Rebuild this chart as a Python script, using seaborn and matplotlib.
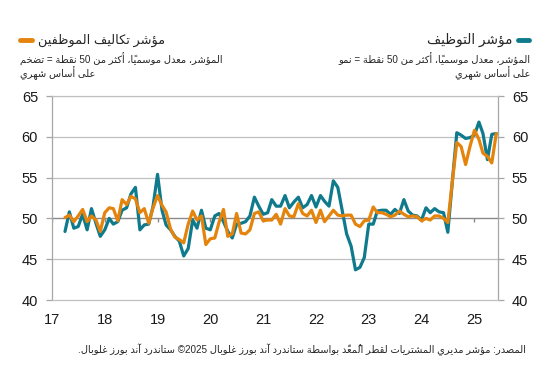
import pandas as pd
import matplotlib
matplotlib.use('Agg')
import matplotlib.pyplot as plt
import seaborn as sns
from matplotlib.lines import Line2D

# monthly readings, Apr 2017 - Jun 2025
employment = [
    48.4, 50.8, 48.8, 49.0, 50.5, 48.6, 51.2, 49.4, 47.8,
    48.6, 50.0, 49.3, 49.6, 51.0, 51.3, 53.0, 53.8, 48.6, 49.2, 49.3, 51.5,
    55.4, 51.0, 49.2, 48.6, 47.8, 47.2, 45.4, 46.3, 49.8, 48.8, 51.0, 48.8,
    48.6, 50.3, 50.6, 49.6, 48.4, 47.6, 49.3, 49.4, 49.6, 50.3, 52.6, 51.5,
    50.5, 50.7, 52.3, 51.5, 51.5, 52.8, 51.3, 52.0, 52.6, 51.3, 51.7, 52.8,
    51.4, 52.8, 52.1, 51.5, 54.6, 53.8, 51.0, 48.1, 46.6, 43.7, 44.0, 45.2,
    49.3, 49.3, 50.9, 51.0, 51.0, 50.5, 51.1, 50.6, 52.3, 50.9, 50.4, 50.3,
    49.8, 51.3, 50.7, 51.2, 50.8, 50.7, 48.3, 54.5, 60.5, 60.2, 59.8, 59.9,
    60.2, 61.8, 60.4, 57.2, 60.3, 60.4,
]
staff_costs = [
    50.1, 50.4, 49.6, 50.3, 51.1, 49.6, 50.3, 49.8, 48.4,
    50.7, 51.3, 51.2, 49.7, 52.3, 51.7, 52.7, 52.4, 50.7, 51.2, 49.4, 51.3,
    52.8, 51.6, 50.8, 48.7, 47.7, 47.4, 47.0, 49.3, 50.9, 49.8, 50.3, 46.8,
    47.5, 47.6, 49.5, 51.1, 47.8, 48.1, 50.6, 48.2, 48.1, 48.6, 50.6, 50.8,
    49.7, 49.8, 49.8, 50.5, 49.3, 51.2, 50.3, 50.2, 51.8, 50.6, 50.3, 51.0,
    49.5, 51.0, 49.6, 50.3, 51.0, 50.4, 50.3, 50.4, 50.4, 49.3, 49.0, 49.7,
    49.8, 51.4, 50.7, 50.7, 50.5, 50.2, 50.4, 50.9, 50.5, 50.2, 50.3, 50.2,
    49.7, 50.0, 49.8, 50.3, 50.3, 50.0, 49.5, 54.5, 59.3, 58.8, 56.6, 58.8,
    60.8, 59.7, 58.0, 57.6, 56.8, 60.4,
]
years = list(range(2017, 2026))
year_labels = [str(y)[2:] for y in years]
y_ticks = [40, 45, 50, 55, 60, 65]

title_emp = 'مؤشر التوظيف'
title_cost = 'مؤشر تكاليف الموظفين'
sub_emp = 'المؤشر، معدل موسمياً، أكثر من 50 نقطة = نمو'
sub_cost = 'المؤشر، معدل موسمياً، أكثر من 50 نقطة = تضخم'
sub_line2 = 'على أساس شهري'
source = 'المصدر: مؤشر مديري المشتريات لقطر المُعدّ بواسطة ستاندرد آند بورز غلوبال ©2025 ستاندرد آند بورز غلوبال.'

TEAL = '#0E7A8C'
ORANGE = '#E5840C'
GRID = '#C0C0C0'

# matplotlib does no Arabic shaping / bidi, so a small one is done here
MARKS = set(chr(c) for c in range(0x064B, 0x0653))
RIGHT_JOIN = {'\u0622': 0xFE81, '\u0623': 0xFE83, '\u0624': 0xFE85, '\u0625': 0xFE87,
              '\u0627': 0xFE8D, '\u0629': 0xFE93, '\u062F': 0xFEA9, '\u0630': 0xFEAB,
              '\u0631': 0xFEAD, '\u0632': 0xFEAF, '\u0648': 0xFEED, '\u0649': 0xFEEF}
DUAL_JOIN = {'\u0626': 0xFE89, '\u0628': 0xFE8F, '\u062A': 0xFE95, '\u062B': 0xFE99,
             '\u062C': 0xFE9D, '\u062D': 0xFEA1, '\u062E': 0xFEA5, '\u0633': 0xFEB1,
             '\u0634': 0xFEB5, '\u0635': 0xFEB9, '\u0636': 0xFEBD, '\u0637': 0xFEC1,
             '\u0638': 0xFEC5, '\u0639': 0xFEC9, '\u063A': 0xFECD, '\u0641': 0xFED1,
             '\u0642': 0xFED5, '\u0643': 0xFED9, '\u0644': 0xFEDD, '\u0645': 0xFEE1,
             '\u0646': 0xFEE5, '\u0647': 0xFEE9, '\u064A': 0xFEF1}
LAM_ALEF = {'\u0622': 0xFEF5, '\u0623': 0xFEF7, '\u0625': 0xFEF9, '\u0627': 0xFEFB}


def kind(b):
    if len(b) == 2:
        return 'R'
    if b in DUAL_JOIN:
        return 'D'
    if b in RIGHT_JOIN:
        return 'R'
    return None


def shape(text):
    clusters = []
    for ch in text:
        if ch in MARKS and clusters:
            clusters[-1][1] += ch
        else:
            clusters.append([ch, ''])
    merged = []
    i = 0
    while i < len(clusters):
        b, m = clusters[i]
        if b == '\u0644' and i + 1 < len(clusters) and clusters[i + 1][0] in LAM_ALEF:
            merged.append([b + clusters[i + 1][0], m + clusters[i + 1][1]])
            i += 2
        else:
            merged.append([b, m])
            i += 1
    out = []
    n = len(merged)
    for i, (b, m) in enumerate(merged):
        k = kind(b)
        if k is None:
            out.append(b + m)
            continue
        prev = i > 0 and kind(merged[i - 1][0]) == 'D'
        nxt = k == 'D' and i + 1 < n and kind(merged[i + 1][0]) is not None
        if len(b) == 2:
            base = LAM_ALEF[b[1]]
        elif k == 'D':
            base = DUAL_JOIN[b]
        else:
            base = RIGHT_JOIN[b]
        if k == 'D':
            off = 3 if (prev and nxt) else 1 if prev else 2 if nxt else 0
        else:
            off = 1 if prev else 0
        out.append(chr(base + off) + m)
    return out


def ar(text):
    runs = []
    for c in shape(text):
        ltr = (c[0].isascii() and c[0].isalnum()) or c[0] == '©'
        if runs and runs[-1][0] == ltr:
            runs[-1][1].append(c)
        else:
            runs.append([ltr, [c]])
    parts = []
    for ltr, cs in reversed(runs):
        parts.append(''.join(cs if ltr else reversed(cs)))
    return ''.join(parts)


dates = pd.date_range('2017-04-01', periods=len(employment), freq='MS')
df = pd.DataFrame({
    'date': list(dates) * 2,
    'value': employment + staff_costs,
    'series': ['employment'] * len(employment) + ['staff_costs'] * len(staff_costs),
})

sns.set_style('white')
plt.rcParams['font.family'] = ['Liberation Sans', 'DejaVu Sans']

fig = plt.figure(figsize=(5.41, 3.67), dpi=100)
ax = fig.add_axes([52 / 541, 1 - 300 / 367, 446 / 541, 204 / 367])

for y in [45, 55, 60, 65]:
    ax.axhline(y, color=GRID, lw=0.9, zorder=1)
ax.axhline(50, color='#8A8A8A', lw=1.0, zorder=1.5)
year_dates = [pd.Timestamp(f'{y}-01-01') for y in years]
ax.vlines(year_dates, 49.55, 50, color='#8A8A8A', lw=1.0, zorder=1.5)

sns.lineplot(data=df, x='date', y='value', hue='series',
             palette={'employment': TEAL, 'staff_costs': ORANGE},
             linewidth=2.3, legend=False, ax=ax, zorder=3)

ax.set_xlim(pd.Timestamp('2017-01-08'), pd.Timestamp('2025-06-13'))
ax.set_ylim(40, 65)
ax.set_xticks(year_dates)
ax.set_xticklabels(year_labels)
ax.set_yticks(y_ticks)
ax.set_xlabel('')
ax.set_ylabel('')
ax.tick_params(axis='x', length=0, pad=9, labelsize=10.5, colors='#1A1A1A')
ax.tick_params(axis='y', left=True, right=True, labelleft=True, labelright=True,
               direction='out', length=4, width=0.9, color='#A6A6A6',
               pad=6, labelsize=10.5, labelcolor='#1A1A1A')
for side in ['left', 'right', 'bottom', 'top']:
    ax.spines[side].set_color('#A6A6A6' if side in ('left', 'right') else GRID)
    ax.spines[side].set_linewidth(0.9)

# header blocks
fig.add_artist(Line2D([518 / 541, 529 / 541], [1 - 40 / 367] * 2, color=TEAL, lw=3.5))
fig.text(512 / 541, 1 - 40 / 367, ar(title_emp), ha='right', va='center', fontsize=9.8)
fig.text(530 / 541, 1 - 59 / 367, ar(sub_emp), ha='right', va='center', fontsize=7.1)
fig.text(530 / 541, 1 - 73 / 367, ar(sub_line2), ha='right', va='center', fontsize=7.1)

fig.add_artist(Line2D([20 / 541, 32 / 541], [1 - 40 / 367] * 2, color=ORANGE, lw=3.5))
fig.text(38 / 541, 1 - 40 / 367, ar(title_cost), ha='left', va='center', fontsize=9.3)
fig.text(20 / 541, 1 - 59 / 367, ar(sub_cost), ha='left', va='center', fontsize=7.1)
fig.text(20 / 541, 1 - 73 / 367, ar(sub_line2), ha='left', va='center', fontsize=7.1)

fig.text(526 / 541, 1 - 350 / 367, ar(source), ha='right', va='center', fontsize=7.1)

fig.savefig('out.png', dpi=100)
